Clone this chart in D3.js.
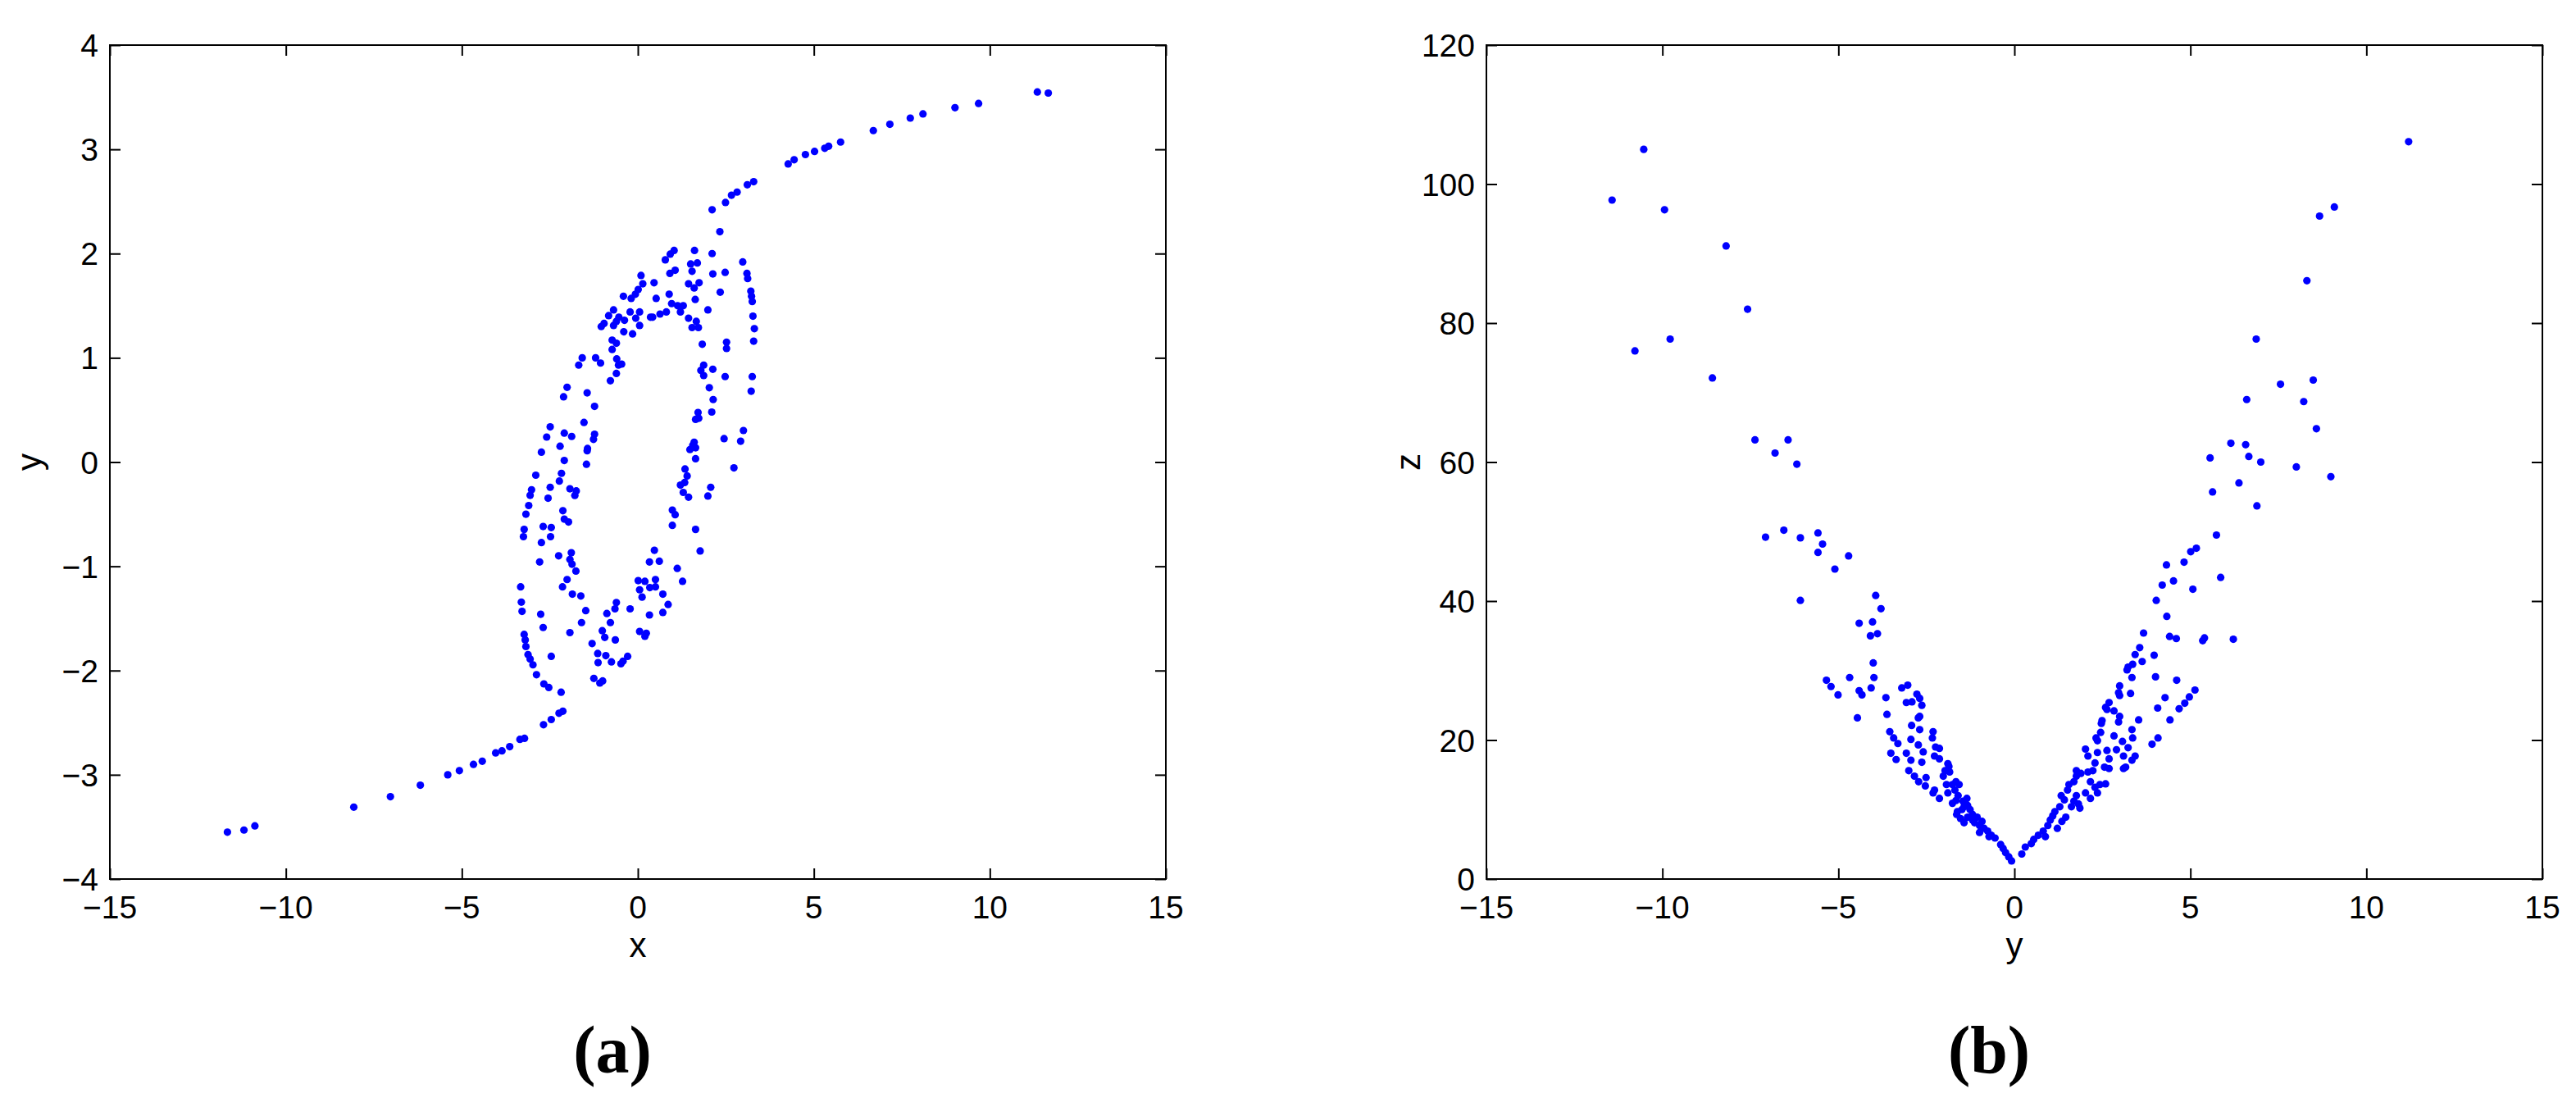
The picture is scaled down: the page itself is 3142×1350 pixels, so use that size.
<!DOCTYPE html>
<html>
<head>
<meta charset="utf-8">
<script src="https://cdn.jsdelivr.net/npm/d3@7"></script>
<style>
  html, body { margin: 0; padding: 0; background: #fff; }
  svg { display: block; }
  .tick-label { font-family: "Liberation Sans", Arial, sans-serif; font-size: 39px; fill: #000; }
  .axis-label { font-family: "Liberation Sans", Arial, sans-serif; font-size: 42px; fill: #000; }
  .caption { font-family: "Liberation Serif", "DejaVu Serif", serif; font-size: 82px; font-weight: bold; fill: #000; }
</style>
</head>
<body>
<svg id="chart" width="3142" height="1350"></svg>
<script>
// panel (a): x versus y
const pointsXY = [
  [-11.66,-3.55],[-11.19,-3.53],[-10.88,-3.49],[-8.07,-3.31],[-7.03,-3.21],[-6.18,-3.10],[-5.40,-3.00],
  [-5.07,-2.96],[-4.67,-2.90],[-4.42,-2.87],[-4.04,-2.79],[-3.86,-2.77],[-3.64,-2.73],[-3.35,-2.66],
  [-3.22,-2.65],[-2.68,-2.52],[-2.46,-2.47],[-2.24,-2.41],[-2.13,-2.39],
  [11.35,3.55],[11.66,3.54],[9.68,3.44],[9.01,3.40],[8.10,3.34],[7.74,3.30],[7.16,3.24],[6.69,3.18],
  [5.76,3.07],[5.42,3.03],[5.31,3.01],[5.02,2.98],[4.76,2.95],[4.44,2.90],[4.27,2.86],[3.29,2.69],
  [3.11,2.66],[2.82,2.59],[2.66,2.56],[2.49,2.49],[2.11,2.42],[2.33,2.21],
  [1.03,2.03],[0.92,1.995],[0.78,1.94],[1.61,2.03],[2.11,2.00],[2.98,1.92],[1.50,1.90],[1.69,1.91],
  [1.06,1.84],[0.91,1.81],[1.54,1.83],[2.13,1.805],[2.48,1.82],[3.10,1.81],[3.12,1.76],[0.09,1.79],
  [0.46,1.72],[0.14,1.71],[1.44,1.71],[1.74,1.72],[1.60,1.67],[0.01,1.655],[-0.07,1.61],[-0.19,1.57],
  [-0.41,1.59],[0.52,1.57],[0.89,1.61],[2.34,1.63],[3.21,1.64],[3.23,1.59],[3.25,1.54],[1.63,1.56],
  [0.96,1.52],[1.13,1.50],[1.29,1.50],[1.21,1.44],[1.99,1.46],[0.81,1.44],[0.63,1.42],[0.42,1.39],
  [0.36,1.39],[1.44,1.38],[1.66,1.35],[1.54,1.29],[1.72,1.29],[3.27,1.40],[3.31,1.28],[3.29,1.16],
  [-0.22,1.44],[0.05,1.44],[-0.06,1.38],[0.05,1.31],[-0.69,1.46],[-0.83,1.405],[-0.96,1.33],[-1.04,1.30],
  [-0.54,1.39],[-0.38,1.36],[-0.61,1.35],[-0.69,1.31],[-0.40,1.25],[-0.15,1.23],[-0.73,1.17],[-0.61,1.14],
  [-0.73,1.08],[1.83,1.13],[2.52,1.15],[2.52,1.09],[-1.58,1.00],[-1.20,1.00],[-1.06,0.95],[-1.68,0.93],
  [-0.60,0.99],[-0.46,0.94],[-0.55,0.93],[1.87,0.93],[1.79,0.88],[2.13,0.89],[1.87,0.83],[2.48,0.82],
  [3.25,0.82],[-0.61,0.85],[-0.78,0.78],[-2.01,0.717],[-2.11,0.626],[-1.44,0.664],[-1.23,0.534],
  [2.03,0.713],[2.14,0.60],[2.10,0.48],[3.22,0.68],[1.71,0.475],[1.64,0.41],[1.73,0.42],[-2.49,0.338],
  [-2.59,0.24],[-2.09,0.278],[-1.88,0.246],[-1.53,0.38],[-1.23,0.267],[-1.26,0.218],[-2.21,0.152],
  [-2.74,0.095],[-1.43,0.13],[-1.44,0.109],[-2.09,0.015],[-1.46,-0.021],[3.00,0.303],[2.92,0.20],
  [2.45,0.225],[2.73,-0.056],[1.56,0.162],[1.60,0.19],[1.48,0.12],[1.64,0.137],[1.64,0.032],
  [-2.90,-0.126],[-2.17,-0.108],[-2.23,-0.182],[-2.49,-0.242],[-3.02,-0.266],[-3.06,-0.319],
  [-3.10,-0.417],[-2.55,-0.347],[-1.93,-0.256],[-1.75,-0.277],[-1.79,-0.32],[1.34,-0.066],[1.40,-0.133],
  [1.33,-0.196],[1.21,-0.221],[1.29,-0.291],[1.44,-0.337],[2.07,-0.242],[1.99,-0.326],[-3.18,-0.50],
  [-2.13,-0.467],[-2.09,-0.547],[-1.97,-0.575],[-3.23,-0.646],[-3.25,-0.716],[-2.69,-0.618],
  [-2.46,-0.628],[-2.48,-0.716],[-2.74,-0.772],[0.98,-0.46],[1.06,-0.505],[0.98,-0.607],[1.64,-0.646],
  [1.77,-0.853],[-2.79,-0.958],[-2.25,-0.899],[-1.89,-0.87],[-1.93,-0.934],[-1.87,-0.98],[-1.76,-1.046],
  [0.47,-0.846],[0.33,-0.958],[0.61,-0.951],[1.12,-1.02],[1.27,-1.144],[-3.33,-1.197],[-3.31,-1.344],
  [-3.29,-1.432],[-2.01,-1.127],[-2.14,-1.197],[-1.86,-1.267],[-1.62,-1.285],[-1.48,-1.425],[-1.60,-1.54],
  [0.01,-1.137],[0.20,-1.144],[0.50,-1.127],[0.05,-1.225],[0.34,-1.204],[0.12,-1.295],[0.50,-1.197],
  [0.71,-1.267],[0.86,-1.366],[0.71,-1.443],[0.33,-1.467],[-0.22,-1.408],[-0.61,-1.348],[-0.65,-1.408],
  [-0.88,-1.453],[-0.78,-1.54],[-2.76,-1.46],[-2.69,-1.587],[-1.93,-1.636],[-1.01,-1.618],[-0.94,-1.682],
  [-0.64,-1.706],[-1.30,-1.741],[0.05,-1.625],[0.24,-1.643],[0.20,-1.671],[-3.23,-1.653],[-3.20,-1.706],
  [-3.18,-1.77],[-3.12,-1.847],[-3.06,-1.889],[-2.98,-1.945],[-2.46,-1.864],[-1.14,-1.836],[-0.91,-1.857],
  [-0.75,-1.917],[-1.13,-1.924],[-0.48,-1.935],[-0.42,-1.91],[-0.29,-1.864],[-2.88,-2.04],[-2.67,-2.128],
  [-2.53,-2.163],[-2.18,-2.208],[-1.25,-2.075],[-1.08,-2.12],[-1.00,-2.10]
];

// panel (b): y versus z
const pointsYZ = [
  [-11.43,97.7],[-10.53,105.0],[-9.94,96.3],[-10.78,76.0],[-9.78,77.7],[-8.19,91.1],[-8.58,72.1],
  [-7.58,82.0],[-7.37,63.2],[-6.43,63.2],[-6.80,61.3],[-6.18,59.7],[-7.07,49.2],[-6.55,50.2],[-6.08,49.1],
  [-5.58,49.8],[-5.45,48.2],[-5.58,47.0],[-5.10,44.6],[-4.71,46.5],[-6.08,40.1],
  [11.2,106.1],[9.09,96.7],[8.67,95.4],[8.31,86.1],[6.87,77.7],[7.56,71.2],[8.49,71.8],[8.22,68.7],
  [6.60,69.0],[8.58,64.8],[8.01,59.3],[8.99,57.9],[6.15,62.7],[6.57,62.5],[6.66,60.8],[7.00,60.0],
  [5.56,60.6],[5.63,55.7],[6.38,57.0],[6.89,53.7],[5.74,49.5],[5.86,43.4],[6.22,34.5],
  [4.32,45.2],[4.82,45.6],[5.01,47.1],[5.17,47.6],
  [-3.94,40.8],[-3.79,38.9],[-4.41,36.8],[-4.03,37.0],[-4.09,35.0],[-3.89,35.3],[-4.01,31.1],[-5.34,28.6],
  [-5.21,27.7],[-4.68,29.0],[-3.99,29.0],[-4.07,27.5],[-5.01,26.5],[-4.41,27.1],[-4.33,26.5],[-3.65,26.1],
  [-4.46,23.2],[-3.62,23.7],[-3.20,27.5],[-3.03,27.9],[-2.77,26.6],[-3.07,25.4],[-2.91,25.5],[-2.69,26.0],
  [-2.63,25.0],[-2.73,23.2],[-2.69,23.4],[-2.92,22.1],[-2.69,21.5],[-2.31,21.2],[-2.33,20.3],[-3.54,21.2],
  [-3.43,20.3],[-3.31,19.5],[-2.94,20.1],[-2.73,19.3],[-2.24,19.0],[-2.13,18.8],[-2.59,18.3],[-3.51,18.1],
  [-3.36,17.2],[-3.07,18.1],[-2.94,17.1],[-2.27,17.7],[-2.13,17.3],[-2.63,16.8],[-1.89,16.6],[-3.00,15.6],
  [-2.84,14.8],[-2.72,14.0],[-2.51,14.6],[-2.53,13.4],[-2.27,12.8],[-2.31,12.4],[-2.13,11.6],[-2.02,14.8],
  [-1.97,15.6],[-1.86,16.2],[-1.84,15.4],[-1.93,13.6],[-1.76,13.6],[-1.66,14.0],[-1.57,13.6],[-1.89,12.4],
  [-1.69,12.8],[-1.60,12.0],[-1.66,11.3],[-1.76,10.9],[-1.62,9.7],[-1.64,9.3],[-1.46,11.2],[-1.43,10.4],
  [-1.35,11.6],[-1.33,10.6],[-1.49,10.0],[-1.26,10.0],[-1.33,8.9],[-1.19,9.3],[-1.19,8.5],[-1.06,8.9],
  [-1.13,8.1],[-0.99,7.7],[-0.92,8.3],[-0.86,7.3],[-0.76,6.9],[-0.66,6.3],[-0.55,5.9],[-0.39,4.96],
  [-0.32,4.4],[-0.25,3.8],[-0.16,3.2],[-0.08,2.6],[-1.53,8.7],[-1.43,8.1],[-0.99,6.7],[-0.72,6.1],
  [0.21,3.6],[0.31,4.6],[0.48,5.1],[0.55,5.7],[0.68,6.3],[0.82,6.9],[0.95,7.7],[1.02,8.5],[1.09,9.1],
  [1.15,9.7],[0.88,6.1],[1.22,7.3],[1.35,8.3],[1.46,8.9],[1.29,10.4],[1.42,11.4],[1.33,12.0],[1.51,12.8],
  [1.55,13.6],[1.62,10.4],[1.69,11.2],[1.76,12.0],[1.82,10.8],[1.86,10.2],[1.69,14.0],[1.76,14.8],
  [1.76,15.6],[1.89,15.2],[2.09,15.4],[2.16,14.0],[2.02,12.4],[2.29,13.2],[2.16,11.6],[2.36,12.4],
  [2.43,13.6],[2.59,13.7],[2.09,17.7],[2.29,16.7],[2.23,15.6],[2.02,18.7],[2.36,18.2],[2.63,18.5],
  [2.69,17.3],[2.56,16.1],[2.69,15.9],[2.90,18.6],[3.10,17.7],[3.23,18.9],[3.43,17.7],[3.34,17.1],
  [3.16,16.1],[3.10,15.9],[2.32,20.3],[2.36,19.9],[2.45,21.1],[2.83,20.6],[3.07,19.8],[3.36,20.3],
  [3.34,21.5],[2.47,22.4],[2.49,22.8],[2.96,22.6],[3.53,22.9],[3.91,19.4],[4.08,20.3],[2.63,24.4],
  [2.59,24.7],[2.69,25.4],[2.83,24.2],[2.99,23.4],[2.99,26.4],[2.96,26.8],[3.30,26.7],[2.99,27.8],
  [3.20,30.1],[3.23,30.5],[3.34,29.0],[3.36,30.9],[3.56,33.3],[3.43,32.3],[3.63,31.3],[3.67,35.4],
  [3.97,32.2],[4.01,29.1],[4.07,24.6],[4.28,26.1],[4.42,22.9],[4.68,24.5],[4.84,25.3],[4.97,26.2],
  [5.13,27.2],[4.61,28.6],[4.03,40.1],[4.20,42.3],[4.52,42.9],[4.33,37.8],[4.41,34.9],[4.60,34.6],
  [5.07,41.7],[5.35,34.3],[5.40,34.7]
];

const xTicks = [-15, -10, -5, 0, 5, 10, 15];
const yTicksA = [-4, -3, -2, -1, 0, 1, 2, 3, 4];
const zTicks = [0, 20, 40, 60, 80, 100, 120];

const panels = [
  { data: pointsXY, left: 134, xDomain: [-15, 15], yDomain: [-4, 4], xTicks: xTicks, yTicks: yTicksA,
    xLabel: "x", yLabel: "y", yLabelX: 50, caption: "(a)" },
  { data: pointsYZ, left: 1813, xDomain: [-15, 15], yDomain: [0, 120], xTicks: xTicks, yTicks: zTicks,
    xLabel: "y", yLabel: "z", yLabelX: 1732, caption: "(b)" }
];

const svg = d3.select("#chart");
const plotW = 1288, plotTop = 55, plotBottom = 1072, tickLen = 13;

function fmt(v) {
  return v < 0 ? "\u2212" + Math.abs(v) : String(v);
}

panels.forEach(function (p) {
  const x = d3.scaleLinear().domain(p.xDomain).range([p.left, p.left + plotW]);
  const y = d3.scaleLinear().domain(p.yDomain).range([plotBottom, plotTop]);
  const g = svg.append("g");

  // dots first so the frame sits on top
  g.append("g").selectAll("circle")
    .data(p.data)
    .enter().append("circle")
    .attr("cx", function (d) { return x(d[0]); })
    .attr("cy", function (d) { return y(d[1]); })
    .attr("r", 4.6)
    .attr("fill", "#0000ff");

  // inward ticks on all four sides, like matlab's box on
  const bottom = d3.axisBottom(x).tickValues(p.xTicks).tickSize(-tickLen).tickFormat("");
  const top = d3.axisTop(x).tickValues(p.xTicks).tickSize(-tickLen).tickFormat("");
  const left = d3.axisLeft(y).tickValues(p.yTicks).tickSize(-tickLen).tickFormat("");
  const right = d3.axisRight(y).tickValues(p.yTicks).tickSize(-tickLen).tickFormat("");

  g.append("g").attr("transform", "translate(0," + plotBottom + ")").call(bottom);
  g.append("g").attr("transform", "translate(0," + plotTop + ")").call(top);
  g.append("g").attr("transform", "translate(" + p.left + ",0)").call(left);
  g.append("g").attr("transform", "translate(" + (p.left + plotW) + ",0)").call(right);

  g.selectAll(".domain").remove();
  g.selectAll(".tick line").attr("stroke", "#000").attr("stroke-width", 2);

  g.append("rect")
    .attr("x", p.left).attr("y", plotTop)
    .attr("width", plotW).attr("height", plotBottom - plotTop)
    .attr("fill", "none").attr("stroke", "#000").attr("stroke-width", 2);

  // tick labels
  g.selectAll(".xtl").data(p.xTicks).enter().append("text")
    .attr("class", "tick-label")
    .attr("x", function (d) { return x(d); })
    .attr("y", plotBottom + 48)
    .attr("text-anchor", "middle")
    .text(fmt);

  g.selectAll(".ytl").data(p.yTicks).enter().append("text")
    .attr("class", "tick-label")
    .attr("x", p.left - 14)
    .attr("y", function (d) { return y(d) + 14; })
    .attr("text-anchor", "end")
    .text(fmt);

  // axis labels
  g.append("text").attr("class", "axis-label")
    .attr("x", p.left + plotW / 2).attr("y", 1167)
    .attr("text-anchor", "middle")
    .text(p.xLabel);

  g.append("text").attr("class", "axis-label")
    .attr("transform", "translate(" + p.yLabelX + "," + ((plotTop + plotBottom) / 2) + ") rotate(-90)")
    .attr("text-anchor", "middle")
    .text(p.yLabel);

  // subfigure caption
  g.append("text").attr("class", "caption")
    .attr("x", p.left + plotW / 2 - 31).attr("y", 1308)
    .attr("text-anchor", "middle")
    .text(p.caption);
});
</script>
</body>
</html>
